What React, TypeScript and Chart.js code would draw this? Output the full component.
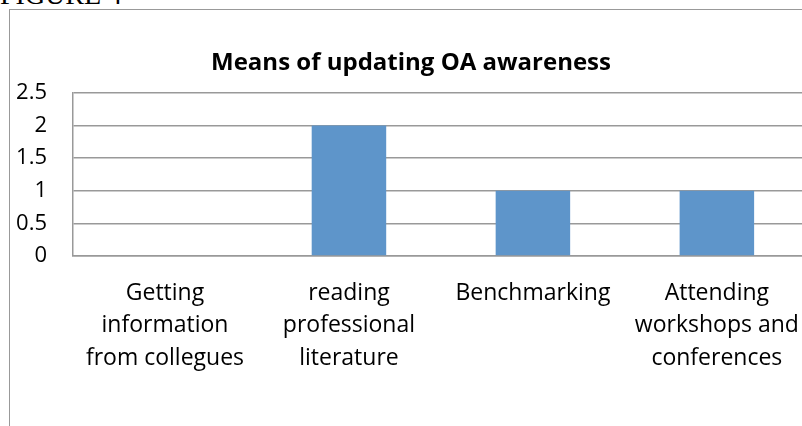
import React, { useEffect, useRef } from "react";
import { Chart, registerables } from "chart.js";

Chart.register(...registerables);

const title = "Means of updating OA awareness";
const categories: string[][] = [
  ["Getting", "information", "from collegues"],
  ["reading", "professional", "literature"],
  ["Benchmarking"],
  ["Attending", "workshops and", "conferences"],
];
const values: number[] = [0, 2, 1, 1];
const yTicks: number[] = [0, 0.5, 1, 1.5, 2, 2.5];

const FONT = "'Open Sans', sans-serif";

export default function App() {
  const ref = useRef<HTMLCanvasElement | null>(null);

  useEffect(() => {
    if (!ref.current) return;
    const chart = new Chart(ref.current, {
      type: "bar",
      data: {
        labels: categories,
        datasets: [
          {
            data: values,
            backgroundColor: "#5E95CA",
            borderWidth: 0,
            barPercentage: 0.405,
            categoryPercentage: 1,
          },
        ],
      },
      options: {
        animation: false,
        responsive: false,
        layout: { padding: { top: 0, right: 9, bottom: 0, left: 0 } },
        plugins: {
          legend: { display: false },
          tooltip: { enabled: false },
          title: {
            display: true,
            text: title,
            color: "#000",
            font: { family: FONT, size: 24, weight: "bold", lineHeight: 1.2 },
            padding: { top: 39, bottom: 15 },
          },
        },
        scales: {
          x: {
            grid: { display: false, drawTicks: false },
            border: { display: true, color: "#999", width: 1.5 },
            ticks: {
              color: "#000",
              font: { family: FONT, size: 23, lineHeight: 1.41 },
              padding: 21,
              maxRotation: 0,
              autoSkip: false,
            },
            afterFit: (s: any) => {
              s.height = 170;
            },
          },
          y: {
            min: 0,
            max: 2.5,
            afterBuildTicks: (s: any) => {
              s.ticks = yTicks.map((v) => ({ value: v }));
            },
            grid: { color: "#999", lineWidth: 1.5, drawTicks: false },
            border: { display: true, color: "#999", width: 1.5 },
            ticks: {
              color: "#000",
              font: { family: FONT, size: 22 },
              padding: 26,
              callback: (v: any) => String(Number(v)),
            },
            afterFit: (s: any) => {
              s.width = 63;
            },
          },
        },
      },
    });
    return () => chart.destroy();
  }, []);

  return (
    <div
      style={{
        position: "fixed",
        left: 0,
        top: 0,
        width: 802,
        height: 426,
        overflow: "hidden",
        background: "#fff",
      }}
    >
      <div
        style={{
          position: "absolute",
          left: 0,
          top: -19,
          fontFamily: "'Liberation Serif', serif",
          fontSize: 28,
          lineHeight: 1,
          color: "#000",
          whiteSpace: "nowrap",
        }}
      >
        FIGURE 4
      </div>
      <div
        style={{
          position: "absolute",
          left: 9,
          top: 9,
          width: 811,
          height: 430,
          border: "1px solid #999",
          boxSizing: "content-box",
        }}
      >
        <canvas ref={ref} width={811} height={416} style={{ display: "block" }} />
      </div>
    </div>
  );
}
